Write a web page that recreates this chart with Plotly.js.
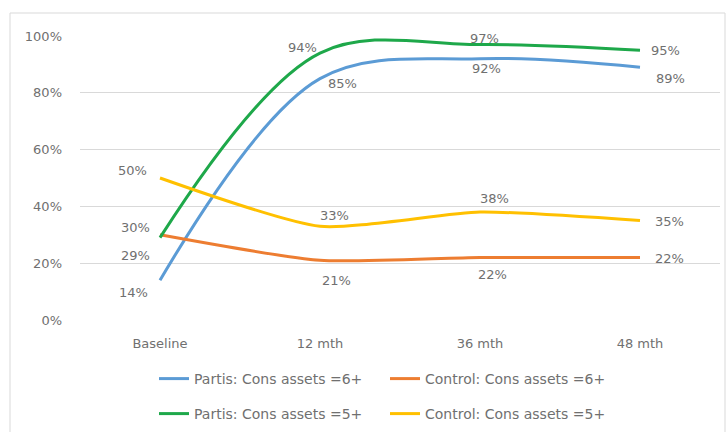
<!DOCTYPE html>
<html>
<head>
<meta charset="utf-8">
<script src="https://cdn.plot.ly/plotly-3.0.1.min.js"></script>
<style>html,body{margin:0;padding:0;background:#fff;}#chart{width:728px;height:432px;}</style>
</head>
<body>
<div id="chart"></div>
<script>
// ---- data ----
var categories = ["Baseline", "12 mth", "36 mth", "48 mth"];
var seriesNames = ["Partis: Cons assets =6+", "Control: Cons assets =6+", "Partis: Cons assets =5+", "Control: Cons assets =5+"];
var partis6 = [0.14, 0.85, 0.92, 0.89];
var control6 = [0.30, 0.21, 0.22, 0.22];
var partis5 = [0.29, 0.94, 0.97, 0.95];
var control5 = [0.50, 0.33, 0.38, 0.35];
var yTickVals = [0, 0.2, 0.4, 0.6, 0.8, 1.0];
var yTickText = ["0%", "20%", "40%", "60%", "80%", "100%"];

// ---- styles ----
var colors = ["#5B9BD5", "#ED7D31", "#1EA84A", "#FFC000"];
var smooth = [1, 0.6, 1, 0.6];
var legendGroups = ["legend", "legend", "legend2", "legend2"];
var allSeries = [partis6, control6, partis5, control5];
// label pixel offsets [dx, dy] per series per point
var labelOffsets = [
  [[-27, 12], [22, 5], [6, 10], [30, 11]],
  [[-25, -7], [16, 20], [12, 17], [29, 1]],
  [[-25, 18], [-18, -6], [4, -6], [25, 0]],
  [[-28, -8], [14, -11], [14, -14], [29, 1]]
];
var textColor = "#707070";
var fontFam = "'DejaVu Sans', sans-serif";

var traces = [];
var annotations = [];
allSeries.forEach(function (vals, i) {
  traces.push({
    type: "scatter",
    mode: "lines",
    x: categories,
    y: vals,
    name: seriesNames[i],
    legend: legendGroups[i],
    line: { color: colors[i], width: 3, shape: "spline", smoothing: smooth[i] },
    hoverinfo: "skip"
  });
  vals.forEach(function (v, j) {
    annotations.push({
      x: categories[j], y: v, xref: "x", yref: "y",
      text: Math.round(v * 100) + "%",
      showarrow: false,
      xshift: labelOffsets[i][j][0],
      yshift: -labelOffsets[i][j][1],
      font: { family: fontFam, size: 13, color: textColor }
    });
  });
});

var legendBase = {
  orientation: "h", xref: "container", yref: "container",
  x: 154 / 728, xanchor: "left", yanchor: "middle",
  entrywidth: 186, entrywidthmode: "pixels",
  font: { family: fontFam, size: 14, color: textColor },
  bgcolor: "rgba(0,0,0,0)", tracegroupgap: 0
};

var layout = {
  width: 728, height: 432,
  margin: { l: 80, r: 8, t: 36, b: 112 },
  paper_bgcolor: "#ffffff",
  plot_bgcolor: "#ffffff",
  showlegend: true,
  xaxis: {
    type: "category",
    range: [-0.5, 3.5],
    showgrid: false, zeroline: false, showline: false,
    ticks: "", ticklabelstandoff: 14,
    tickfont: { family: fontFam, size: 13, color: textColor },
    fixedrange: true
  },
  yaxis: {
    range: [0, 1],
    tickvals: yTickVals, ticktext: yTickText,
    showgrid: true, gridcolor: "#d9d9d9", gridwidth: 1,
    zeroline: false, showline: false, ticks: "",
    ticklabelstandoff: 17,
    tickfont: { family: fontFam, size: 13, color: textColor },
    fixedrange: true
  },
  legend: Object.assign({}, legendBase, { y: 1 - 379 / 432 }),
  legend2: Object.assign({}, legendBase, { y: 1 - 414 / 432 }),
  annotations: annotations,
  shapes: [{
    type: "rect", xref: "paper", yref: "paper",
    x0: -70 / 640, x1: 1.0 + 5 / 640, y0: -120 / 284, y1: 1 + 23 / 284,
    line: { color: "#d9d9d9", width: 1 }, fillcolor: "rgba(0,0,0,0)", layer: "below"
  }]
};

Plotly.newPlot("chart", traces, layout, { displayModeBar: false, staticPlot: true });
</script>
</body>
</html>
